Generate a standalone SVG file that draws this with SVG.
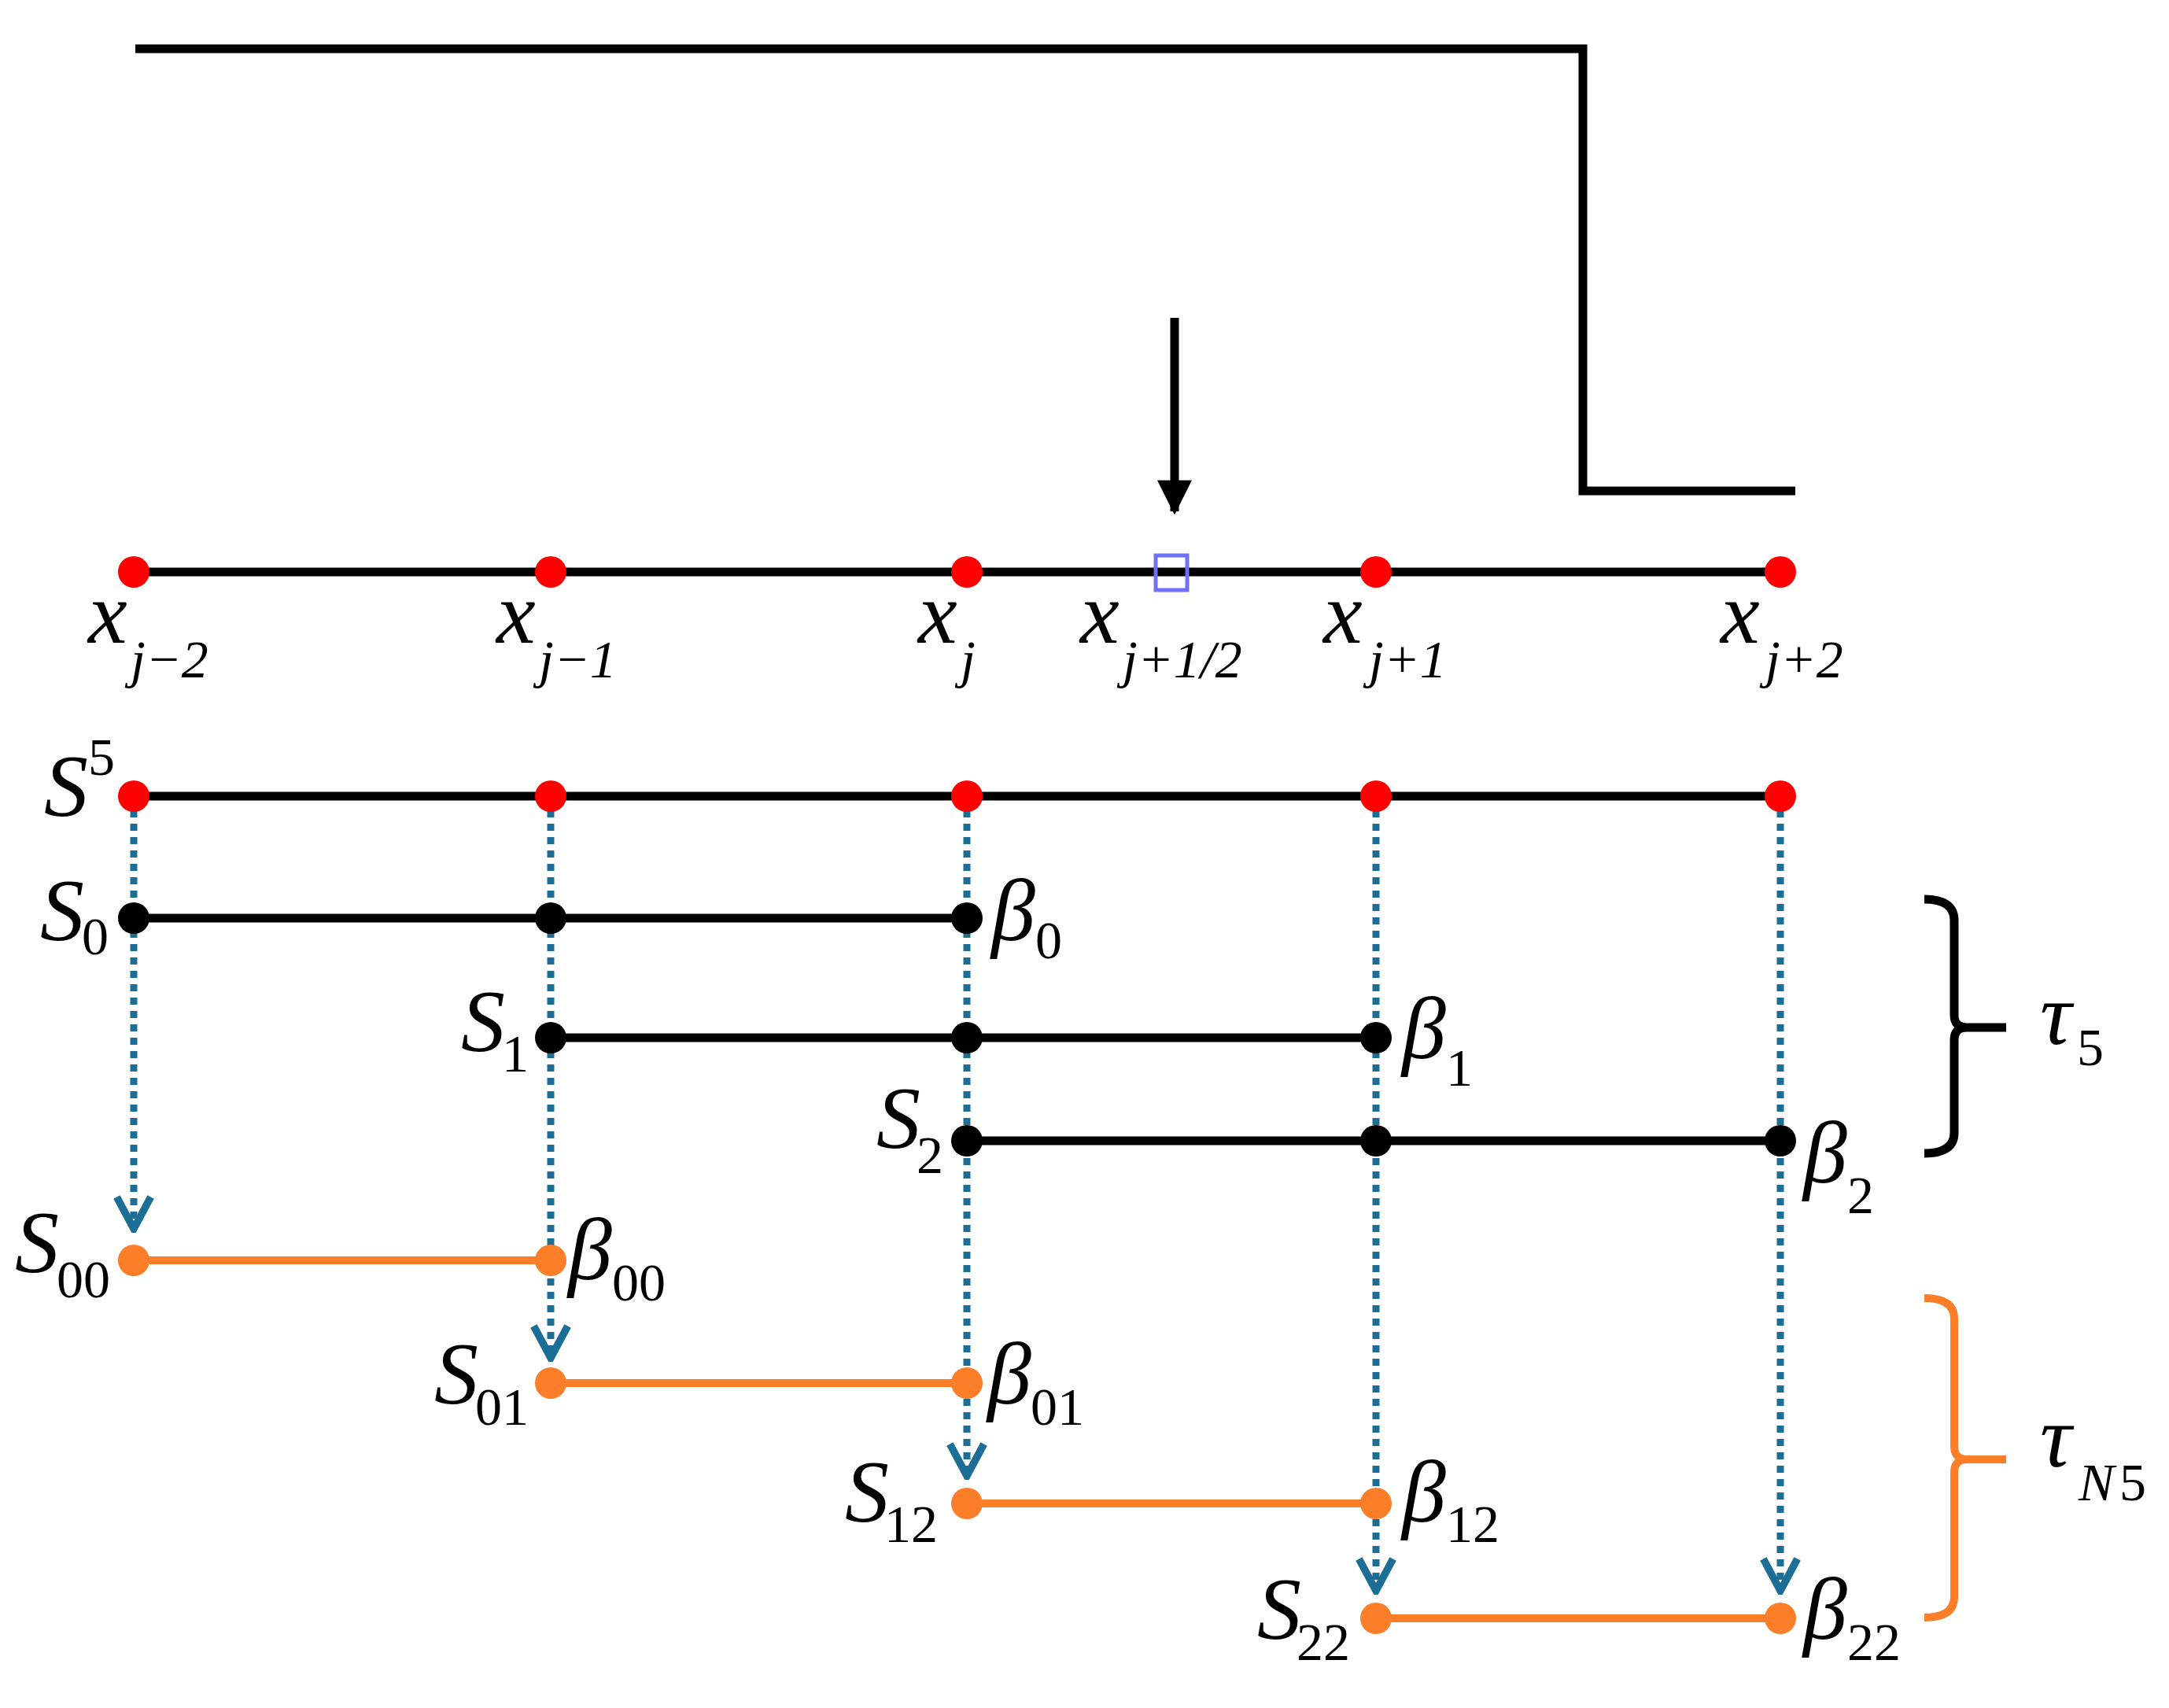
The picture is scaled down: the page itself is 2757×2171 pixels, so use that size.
<svg xmlns="http://www.w3.org/2000/svg" width="2757" height="2171" viewBox="0 0 2757 2171">
<style>
text{font-family:"Liberation Serif","DejaVu Serif",serif;font-style:italic;font-size:112px;fill:#000}
.s{font-size:68px}
.u{font-style:normal}
.bk{stroke:#000;stroke-width:11;fill:none}
.or{stroke:#fd7e28;stroke-width:10;fill:none}
.dt{stroke:#1d6e96;stroke-width:9;stroke-dasharray:9 8;fill:none}
.red{fill:#ff0000}.blk{fill:#000}.org{fill:#fd7e28}
</style>
<defs><marker id="ah" viewBox="0 0 20 20" refX="18" refY="10" markerWidth="6" markerHeight="6" markerUnits="strokeWidth" orient="auto"><path d="M3,2 L18,10 L3,18" fill="none" stroke="#1d6e96" stroke-width="3.5"/></marker>
<marker id="bh" viewBox="0 0 10 10" refX="9" refY="5" markerWidth="4" markerHeight="4" orient="auto"><path d="M0,0 L10,5 L0,10 Z" fill="#000"/></marker></defs>
<g id="connectors">
<path class="bk" d="M172,62 H2012 V624 H2282"/>
<line class="bk" x1="1493" y1="404" x2="1493" y2="650" marker-end="url(#bh)"/>
<line class="dt" x1="170" y1="1030" x2="170" y2="1562" marker-end="url(#ah)"/>
<line class="dt" x1="700" y1="1030" x2="700" y2="1726" marker-end="url(#ah)"/>
<line class="dt" x1="1229" y1="1030" x2="1229" y2="1876" marker-end="url(#ah)"/>
<line class="dt" x1="1749" y1="1030" x2="1749" y2="2022" marker-end="url(#ah)"/>
<line class="dt" x1="2263" y1="1030" x2="2263" y2="2022" marker-end="url(#ah)"/>
<line class="bk" x1="170" y1="727" x2="2263" y2="727"/>
<line class="bk" x1="170" y1="1012" x2="2263" y2="1012"/>
<line class="bk" x1="170" y1="1167" x2="1229" y2="1167"/>
<line class="bk" x1="700" y1="1319" x2="1749" y2="1319"/>
<line class="bk" x1="1229" y1="1450" x2="2263" y2="1450"/>
<line class="or" x1="170" y1="1602" x2="700" y2="1602"/>
<line class="or" x1="700" y1="1758" x2="1229" y2="1758"/>
<line class="or" x1="1229" y1="1911" x2="1749" y2="1911"/>
<line class="or" x1="1749" y1="2057" x2="2263" y2="2057"/>
<path class="bk" d="M2446,1143 Q2484,1143 2484,1170 V1290 Q2484,1306 2500,1306 H2550 M2500,1306 Q2484,1306 2484,1322 V1440 Q2484,1466 2446,1466"/>
<path class="or" d="M2446,1650 Q2484,1650 2484,1676 V1838 Q2484,1855 2500,1855 H2550 M2500,1855 Q2484,1855 2484,1872 V2030 Q2484,2056 2446,2056"/>
</g>
<g id="axis">
<circle class="red" cx="170" cy="727" r="20"/><circle class="red" cx="700" cy="727" r="20"/><circle class="red" cx="1229" cy="727" r="20"/><circle class="red" cx="1749" cy="727" r="20"/><circle class="red" cx="2263" cy="727" r="20"/>
<rect x="1469" y="706" width="40" height="44" fill="none" stroke="#7070ff" stroke-width="5"/>
<text x="112" y="817">x</text><text class="s" x="166" y="861">j−2</text>
<text x="631" y="817">x</text><text class="s" x="685" y="861">j−1</text>
<text x="1167" y="817">x</text><text class="s" x="1221" y="861">j</text>
<text x="1373" y="817">x</text><text class="s" x="1427" y="861">j+1/2</text>
<text x="1682" y="817">x</text><text class="s" x="1740" y="861">j+1</text>
<text x="2187" y="817">x</text><text class="s" x="2244" y="861">j+2</text>
</g>
<g id="S5"><circle class="red" cx="170" cy="1012" r="20"/><circle class="red" cx="700" cy="1012" r="20"/><circle class="red" cx="1229" cy="1012" r="20"/><circle class="red" cx="1749" cy="1012" r="20"/><circle class="red" cx="2263" cy="1012" r="20"/>
<text x="56" y="1037">S</text><text class="s u" x="112" y="985">5</text></g>
<g id="S0"><circle class="blk" cx="170" cy="1167" r="20"/><circle class="blk" cx="700" cy="1167" r="20"/><circle class="blk" cx="1229" cy="1167" r="20"/>
<text x="51" y="1195">S</text><text class="s u" x="104" y="1213">0</text><text x="1260" y="1195">β</text><text class="s u" x="1316" y="1218">0</text></g>
<g id="S1"><circle class="blk" cx="700" cy="1319" r="20"/><circle class="blk" cx="1229" cy="1319" r="20"/><circle class="blk" cx="1749" cy="1319" r="20"/>
<text x="586" y="1336">S</text><text class="s u" x="638" y="1362">1</text><text x="1782" y="1345">β</text><text class="s u" x="1838" y="1380">1</text></g>
<g id="S2"><circle class="blk" cx="1229" cy="1450" r="20"/><circle class="blk" cx="1749" cy="1450" r="20"/><circle class="blk" cx="2263" cy="1450" r="20"/>
<text x="1114" y="1459">S</text><text class="s u" x="1165" y="1491">2</text><text x="2292" y="1503">β</text><text class="s u" x="2348" y="1542">2</text></g>
<g id="S00"><circle class="org" cx="170" cy="1602" r="20"/><circle class="org" cx="700" cy="1602" r="20"/>
<text x="19" y="1617">S</text><text class="s u" x="72" y="1649">00</text><text x="722" y="1626">β</text><text class="s u" x="778" y="1653">00</text></g>
<g id="S01"><circle class="org" cx="700" cy="1758" r="20"/><circle class="org" cx="1229" cy="1758" r="20"/>
<text x="552" y="1784">S</text><text class="s u" x="604" y="1811">01</text><text x="1255" y="1784">β</text><text class="s u" x="1310" y="1811">01</text></g>
<g id="S12"><circle class="org" cx="1229" cy="1911" r="20"/><circle class="org" cx="1749" cy="1911" r="20"/>
<text x="1074" y="1934">S</text><text class="s u" x="1124" y="1960">12</text><text x="1782" y="1934">β</text><text class="s u" x="1838" y="1960">12</text></g>
<g id="S22"><circle class="org" cx="1749" cy="2057" r="20"/><circle class="org" cx="2263" cy="2057" r="20"/>
<text x="1598" y="2083">S</text><text class="s u" x="1648" y="2110">22</text><text x="2292" y="2083">β</text><text class="s u" x="2348" y="2110">22</text></g>
<g id="tau5"><text x="2593" y="1327">τ</text><text class="s u" x="2640" y="1354">5</text></g>
<g id="tauN5"><text x="2593" y="1864">τ</text><text class="s" x="2642" y="1907">N</text><text class="s u" x="2694" y="1907">5</text></g>
</svg>
